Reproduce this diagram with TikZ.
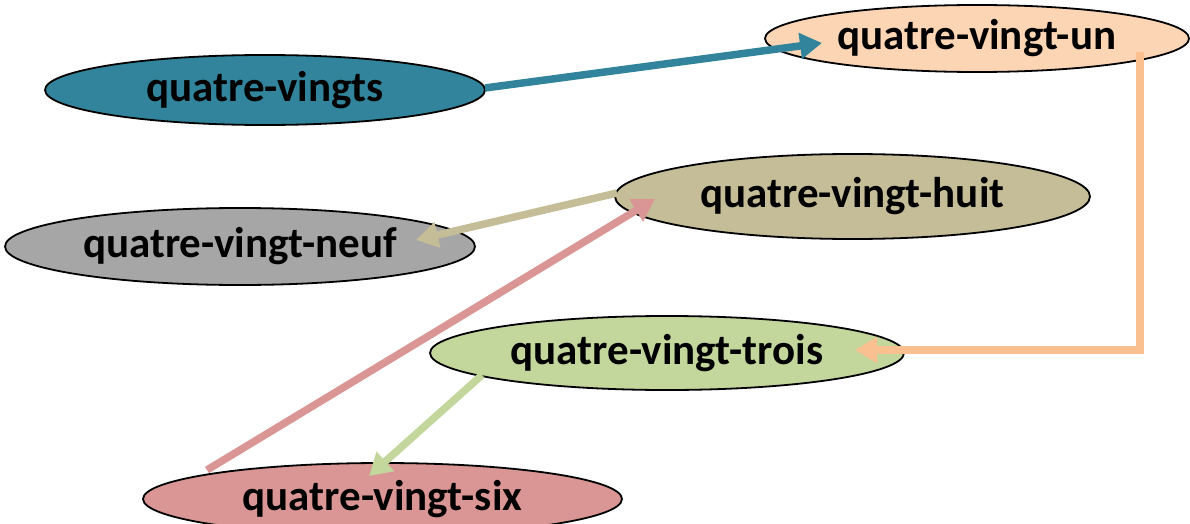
\documentclass[tikz,border=0pt]{standalone}
\usepackage{fontspec}
\setmainfont{Carlito}
\usetikzlibrary{shapes.geometric,arrows.meta}
\definecolor{cteal}{HTML}{31849B}
\definecolor{cpeach}{HTML}{FCD5B5}
\definecolor{cpeachline}{HTML}{FAC08F}
\definecolor{ctan}{HTML}{C4BD97}
\definecolor{cgray}{HTML}{A6A6A6}
\definecolor{cgreen}{HTML}{C3D69B}
\definecolor{cpink}{HTML}{D99694}
\tikzset{
  ell/.style={ellipse, draw=black, line width=1.8pt, inner sep=0pt,
    font=\fontsize{43}{50}\selectfont\bfseries},
  conn/.style={line width=7.5pt, -{Triangle[length=22pt,width=25pt]}},
}
\begin{document}
\begin{tikzpicture}[x=1pt,y=-1pt]
\useasboundingbox (0,0) rectangle (1190,524);
\clip (0,0) rectangle (1190,524);
\node[ell, fill=cteal, minimum width=440pt, minimum height=70pt] (qv) at (265,90) {quatre-vingts};
\node[ell, fill=cpeach, minimum width=424pt, minimum height=67pt] (un) at (977,38.5) {quatre-vingt-un};
\node[ell, fill=ctan, minimum width=475pt, minimum height=85pt] (huit) at (852.5,196.5) {quatre-vingt-huit};
\node[ell, fill=cgray, minimum width=470pt, minimum height=77pt] (neuf) at (240,246.5) {quatre-vingt-neuf};
\node[ell, fill=cgreen, minimum width=474pt, minimum height=74pt] (trois) at (667,353) {quatre-vingt-trois};
\node[ell, fill=cpink, minimum width=479pt, minimum height=72pt] (six) at (382.5,499) {quatre-vingt-six};
% connector ends
\coordinate (qvs) at (485,88);
\coordinate (unt) at (822,43);
\coordinate (uns) at (1140,52);
\coordinate (troist) at (855,350);
\coordinate (huits) at (617,193);
\coordinate (neuft) at (416,240);
\coordinate (sixs) at (207,470);
\coordinate (huitt) at (655,199);
\coordinate (troiss) at (482,375);
\coordinate (sixt) at (369,476);
\draw[conn, cteal] (qvs) -- (unt);
\draw[conn, cpeachline] (uns) |- (troist);
\draw[conn, ctan] (huits) -- (neuft);
\draw[conn, cpink] (sixs) -- (huitt);
\draw[conn, cgreen] (troiss) -- (sixt);
\end{tikzpicture}
\end{document}
